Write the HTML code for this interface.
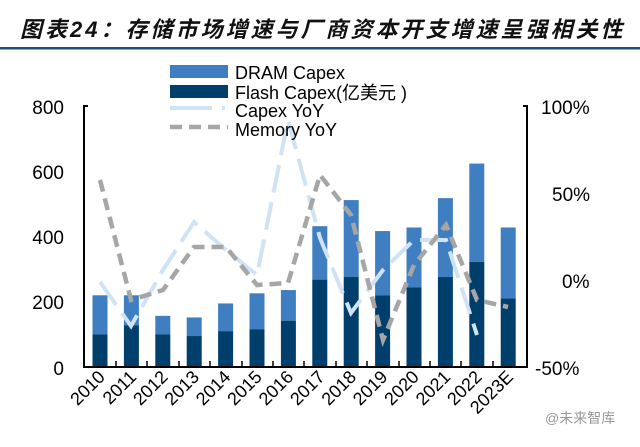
<!DOCTYPE html>
<html><head><meta charset="utf-8"><style>
body{margin:0;background:#fff;width:640px;height:442px;overflow:hidden}
svg text{font-family:"Liberation Sans","Noto Sans CJK SC",sans-serif}
</style></head><body>
<svg width="640" height="442" viewBox="0 0 640 442" xmlns="http://www.w3.org/2000/svg">
<text x="20" y="37" font-size="22" font-weight="bold" font-style="italic" fill="#111" letter-spacing="3">图表24：存储市场增速与厂商资本开支增速呈强相关性</text>
<rect x="0" y="47" width="640" height="2.5" fill="#1f4e79"/>
<g id="bars"></g>
<g stroke="#000" stroke-width="2" fill="none">
<polyline points="88,106 84,106 84,367 527,367 527,106 523,106"/>
</g>
<g stroke="#000" stroke-width="1.5">
<line x1="116" y1="367" x2="116" y2="361"/><line x1="147" y1="367" x2="147" y2="361"/><line x1="179" y1="367" x2="179" y2="361"/><line x1="210" y1="367" x2="210" y2="361"/><line x1="242" y1="367" x2="242" y2="361"/><line x1="273" y1="367" x2="273" y2="361"/><line x1="304" y1="367" x2="304" y2="361"/><line x1="336" y1="367" x2="336" y2="361"/><line x1="367" y1="367" x2="367" y2="361"/><line x1="399" y1="367" x2="399" y2="361"/><line x1="430" y1="367" x2="430" y2="361"/><line x1="461" y1="367" x2="461" y2="361"/><line x1="493" y1="367" x2="493" y2="361"/>
</g>
<g font-size="19" fill="#000" text-anchor="end">
<text x="64" y="114">800</text><text x="64" y="179">600</text><text x="64" y="244">400</text><text x="64" y="309">200</text><text x="64" y="375">0</text>
</g>
<g font-size="19" fill="#000">
<text x="541" y="114">100%</text><text x="552" y="201">50%</text><text x="562" y="288">0%</text><text x="535" y="375">-50%</text>
</g>
<g font-size="18" fill="#000" text-anchor="end" id="xl"></g>
<polyline points="100,282 131,326 163,270 194,222 226,250 257,275 288,120 320,238 351,313 383,270 414,240 446,240 477,335" fill="none" stroke="#cfe3f5" stroke-width="4" stroke-dasharray="28,10"/>
<polyline points="100,180 131,300 163,290 194,247 226,247 257,285 288,283 320,175 351,215 383,340 414,265 446,225 477,300 508,307" fill="none" stroke="#a6a6a6" stroke-width="4.5" stroke-dasharray="12,7"/>
<rect x="170" y="65" width="58" height="13" fill="#3f7fc1"/>
<rect x="170" y="85" width="58" height="13" fill="#003f6b"/>
<line x1="170" y1="108" x2="212" y2="108" stroke="#cfe3f5" stroke-width="4"/><line x1="222" y1="108" x2="225" y2="108" stroke="#cfe3f5" stroke-width="4"/>
<line x1="170" y1="127" x2="228" y2="127" stroke="#a6a6a6" stroke-width="4.5" stroke-dasharray="12,7"/>
<g font-size="18" fill="#000">
<text x="235" y="79">DRAM Capex</text><text x="235" y="99">Flash Capex(亿美元 )</text><text x="235" y="117">Capex YoY</text><text x="235" y="136">Memory YoY</text>
</g>
<text x="545" y="423" font-size="14" fill="#999">@未来智库</text>
<script>
var d=[[220,100],[220,128],[157,100],[152,95],[195,110],[226,116],[236,142],[432,268],[512,276],[417,220],[428,244],[518,276],[624,322],[428,210]];
var yrs=["2010","2011","2012","2013","2014","2015","2016","2017","2018","2019","2020","2021","2022","2023E"];
var g=document.getElementById("bars"),xl=document.getElementById("xl"),ns="http://www.w3.org/2000/svg";
d.forEach(function(v,i){var cx=100+i*31.4,s=0.326;
function r(y,h,c){var e=document.createElementNS(ns,"rect");e.setAttribute("x",cx-7.5);e.setAttribute("y",y);e.setAttribute("width",15);e.setAttribute("height",h);e.setAttribute("fill",c);g.appendChild(e);}
r(367-v[0]*s,(v[0]-v[1])*s,"#3f7fc1");r(367-v[1]*s,v[1]*s,"#003f6b");
var t=document.createElementNS(ns,"text");t.setAttribute("transform","translate("+(cx+6)+",378) rotate(-45)");t.textContent=yrs[i];xl.appendChild(t);});
</script>
</svg>
</body></html>
